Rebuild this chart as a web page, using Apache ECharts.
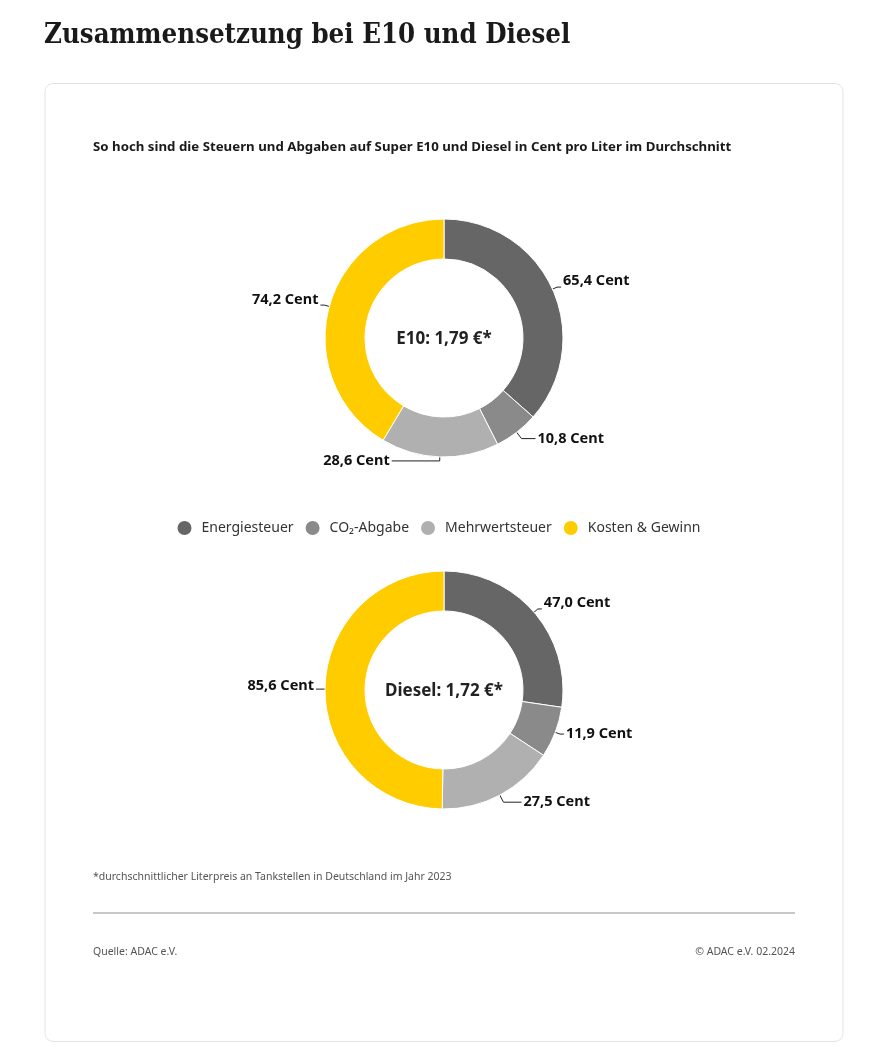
<!DOCTYPE html>
<html><head><meta charset="utf-8">
<script src="https://cdn.jsdelivr.net/npm/echarts@6/dist/echarts.min.js"></script>
<style>html,body{margin:0;padding:0;background:#fff}#c{width:876px;height:1056px}</style>
</head><body><div id="c"></div>
<script>
const categories = ['Energiesteuer', 'CO₂-Abgabe', 'Mehrwertsteuer', 'Kosten & Gewinn'];
const e10Values = [65.4, 10.8, 28.6, 74.2];
const dieselValues = [47.0, 11.9, 27.5, 85.6];
const centerLabels = ['E10: 1,79 €*', 'Diesel: 1,72 €*'];
const colors = ['#666666', '#8a8a8a', '#b0b0b0', '#ffcc00'];

const chart = echarts.init(document.getElementById('c'), null, {renderer: 'canvas'});
const fmt = p => p.value.toFixed(1).replace('.', ',') + ' Cent';
function pieSeries(vals, cy, overrides, shifts) {
  return {
    type: 'pie',
    center: [444, cy],
    radius: [79, 119],
    startAngle: 90,
    clockwise: true,
    avoidLabelOverlap: true,
    itemStyle: {borderColor: '#fff', borderWidth: 1},
    label: {show: true, position: 'outside', formatter: fmt, color: '#111', fontFamily: 'Noto Sans', fontWeight: 'bold', fontSize: 14.5, distanceToLabelLine: 2},
    labelLine: {show: true, length: 5, length2: 4, lineStyle: {color: '#222', width: 1}},
    labelLayout: p => shifts[p.dataIndex] || {},
    emphasis: {scale: false},
    data: categories.map((n, i) => Object.assign({name: n, value: vals[i]}, overrides[i] || {}))
  };
}
const tStyle = {fontFamily: 'Noto Sans', fill: '#555', fontSize: 10.5};
chart.setOption({
  animation: false,
  color: colors,
  legend: {
    data: categories, left: 'center', top: 514, icon: 'circle', itemWidth: 16, itemHeight: 16, itemGap: 10,
    textStyle: {fontFamily: 'Noto Sans', fontSize: 14, color: '#333', padding: [0, 0, 0, 4]}
  },
  graphic: [
    {type: 'rect', shape: {x: 45, y: 83.5, width: 798, height: 958, r: 8}, style: {fill: '#fff', stroke: '#e3e3e3', lineWidth: 1}, z: -10},
    {type: 'text', x: 44, y: 36, scaleX: 0.878, style: {text: 'Zusammensetzung bei E10 und Diesel', verticalAlign: 'middle', fontFamily: 'DejaVu Serif', fontWeight: 'bold', fontSize: 28, fill: '#1a1a1a'}},
    {type: 'text', x: 93, y: 147, scaleX: 1.02, style: {text: 'So hoch sind die Steuern und Abgaben auf Super E10 und Diesel in Cent pro Liter im Durchschnitt', verticalAlign: 'middle', fontFamily: 'Noto Sans', fontWeight: 'bold', fontSize: 13, fill: '#1a1a1a'}},
    {type: 'text', x: 444, y: 339, style: {text: centerLabels[0], align: 'center', verticalAlign: 'middle', fontFamily: 'Noto Sans', fontWeight: 'bold', fontSize: 17, fill: '#222'}},
    {type: 'text', x: 444, y: 691, style: {text: centerLabels[1], align: 'center', verticalAlign: 'middle', fontFamily: 'Noto Sans', fontWeight: 'bold', fontSize: 17, fill: '#222'}},
    {type: 'text', x: 93, y: 877, scaleX: 1.0, style: Object.assign({text: '*durchschnittlicher Literpreis an Tankstellen in Deutschland im Jahr 2023', verticalAlign: 'middle'}, tStyle)},
    {type: 'rect', shape: {x: 93, y: 912, width: 702, height: 2}, style: {fill: '#c8c8c8'}},
    {type: 'text', x: 93, y: 952, scaleX: 1.0, style: Object.assign({text: 'Quelle: ADAC e.V.', verticalAlign: 'middle'}, tStyle)},
    {type: 'text', x: 795, y: 952, scaleX: 1.0, style: Object.assign({text: '© ADAC e.V. 02.2024', align: 'right', verticalAlign: 'middle'}, tStyle)}
  ],
  series: [
    pieSeries(e10Values, 338, {2: {labelLine: {length: 4, length2: 48}}, 1: {labelLine: {length: 8, length2: 14}}}, {0: {dy: -6}, 3: {dy: -5}}),
    pieSeries(dieselValues, 690, {2: {labelLine: {length: 8, length2: 18}}}, {0: {dy: -6}, 3: {dy: -3}})
  ]
});
</script></body></html>
